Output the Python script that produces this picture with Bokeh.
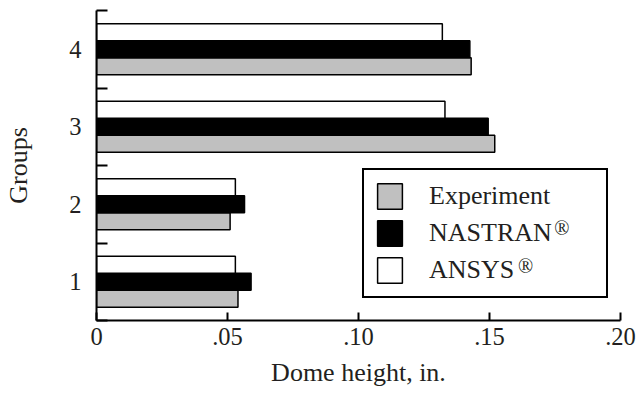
from bokeh.plotting import figure
from bokeh.models import Range1d, FixedTicker, ColumnDataSource, Label
from bokeh.transform import dodge
from bokeh.embed import file_html
from bokeh.resources import INLINE

# ---- data ----
groups = [1, 2, 3, 4]
group_labels = ["1", "2", "3", "4"]
experiment = [0.054, 0.051, 0.152, 0.143]
nastran = [0.059, 0.0565, 0.1495, 0.1425]
ansys = [0.053, 0.053, 0.133, 0.132]
series_names = ["Experiment", "NASTRAN", "ANSYS"]
x_ticks = [0, 0.05, 0.10, 0.15, 0.20]
x_tick_labels = ["0", ".05", ".10", ".15", ".20"]
group_bounds = [0.5, 1.5, 2.5, 3.5, 4.5]

FONT = "Liberation Serif"
TXT = "#231f20"

src = ColumnDataSource(dict(y=groups, experiment=experiment, nastran=nastran, ansys=ansys))

p = figure(width=637, height=398, x_range=Range1d(0, 0.20), y_range=Range1d(0.5, 4.5),
           output_backend="svg", toolbar_location=None,
           min_border_left=96, min_border_right=17, min_border_top=10, min_border_bottom=78)
p.outline_line_color = None
p.xgrid.visible = False
p.ygrid.visible = False
p.background_fill_color = "white"
p.border_fill_color = "white"

bh = 0.22
p.hbar(y=dodge("y", -bh, range=p.y_range), left=0, right="experiment", height=bh, source=src,
       fill_color="#c0c0c0", line_color="black", line_width=1.5, legend_label=series_names[0])
p.hbar(y=dodge("y", 0, range=p.y_range), left=0, right="nastran", height=bh, source=src,
       fill_color="black", line_color="black", line_width=1.5, legend_label=series_names[1])
p.hbar(y=dodge("y", bh, range=p.y_range), left=0, right="ansys", height=bh, source=src,
       fill_color="white", line_color="black", line_width=1.5, legend_label=series_names[2])

# x axis
xa = p.xaxis[0]
xa.ticker = FixedTicker(ticks=x_ticks)
xa.major_label_overrides = {t: l for t, l in zip(x_ticks, x_tick_labels)}
xa.axis_label = "Dome height, in."
xa.axis_line_width = 2
xa.major_tick_in = 8
xa.major_tick_out = 0
xa.major_tick_line_width = 2
xa.minor_tick_line_color = None
xa.major_label_standoff = 7
xa.axis_label_standoff = 10

# y axis
ya = p.yaxis[0]
ya.ticker = FixedTicker(ticks=groups, minor_ticks=group_bounds)
ya.major_label_overrides = {g: l for g, l in zip(groups, group_labels)}
ya.axis_label = "Groups"
ya.axis_line_width = 2
ya.major_tick_in = 0
ya.major_tick_out = 0
ya.minor_tick_in = 11
ya.minor_tick_out = 0
ya.minor_tick_line_width = 2
ya.major_label_standoff = 15
ya.axis_label_standoff = 33

for ax in (xa, ya):
    ax.axis_line_color = "black"
    ax.major_tick_line_color = "black"
    ax.major_label_text_font = FONT
    ax.major_label_text_font_size = "24.5px"
    ax.major_label_text_color = TXT
    ax.axis_label_text_font = FONT
    ax.axis_label_text_font_size = "26px"
    ax.axis_label_text_font_style = "normal"
    ax.axis_label_text_color = TXT
ya.minor_tick_line_color = "black"

# legend (transparent fill so the superscript marks below stay visible)
lg = p.legend[0]
lg.location = (266, 22)
lg.border_line_color = "black"
lg.border_line_width = 2
lg.border_line_alpha = 1
lg.background_fill_alpha = 0
lg.padding = 10
lg.spacing = 5
lg.margin = 0
lg.glyph_width = 31
lg.glyph_height = 32
lg.label_standoff = 24
lg.label_width = 167
lg.label_text_font = FONT
lg.label_text_font_size = "26px"
lg.label_text_color = TXT

# registered marks (superscript after the NASTRAN and ANSYS legend labels)
reg_mark = "\u00ae"
for sx, sy in [(0.1747, 1.83), (0.1609, 1.34)]:
    p.add_layout(Label(x=sx, y=sy, text=reg_mark, text_font=FONT, text_font_size="20px",
                       text_color=TXT, text_baseline="top", text_align="left"))

open("out.html", "w", encoding="utf-8").write(file_html(p, INLINE))
